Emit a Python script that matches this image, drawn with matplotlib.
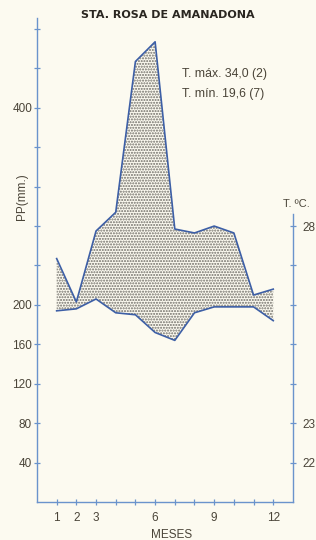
import numpy as np
import matplotlib
matplotlib.use("Agg")
from matplotlib import pyplot as plt

months = [1, 2, 3, 4, 5, 6, 7, 8, 9, 10, 11, 12]
pp = [247, 203, 275, 294, 447, 467, 277, 273, 280, 273, 210, 216]
temp = [25.85, 25.9, 26.15, 25.8, 25.75, 25.3, 25.1, 25.8, 25.95, 25.95, 25.95, 25.6]
month_labels = ['1', '2', '3', '', '', '6', '', '', '9', '', '', '12']
pp_ticks = [40, 80, 120, 160, 200, 240, 280, 320, 360, 400, 440, 480]
pp_labels = ['40', '80', '120', '160', '200', '', '', '', '', '400', '', '']
t_ticks = [22, 23, 24, 25, 26, 27, 28]
t_labels = ['22', '23', '', '', '', '', '28']

# T axis scaled so that 1 degree = 40 mm, 21 degrees at zero
t0 = 21
t_scale = 40

bg = '#fcfaf0'
axis_col = '#6a93cc'
line_col = '#3d5fa6'
text_col = '#4a4438'
dot_col = '#6e6c66'

plt.rcParams['font.family'] = ['Liberation Sans', 'DejaVu Sans']
plt.rcParams['hatch.linewidth'] = 1.0
plt.rcParams['hatch.color'] = dot_col

fig = plt.figure(figsize=(3.16, 5.4), dpi=100, facecolor=bg)
ax = fig.add_axes([0.117, 0.0704, 0.81, 0.896])
ax.set_facecolor(bg)
ymax = 491
ax.set_xlim(0, 13)
ax.set_ylim(0, ymax)

temp_pp = [(t - t0) * t_scale for t in temp]
ax.fill_between(months, pp, temp_pp, facecolor='none', edgecolor=dot_col,
                hatch='......', linewidth=0)
ax.plot(months, pp, color=line_col, lw=1.2)

ax2 = ax.twinx()
ax2.set_ylim(t0, t0 + ymax / t_scale)
ax2.plot(months, temp, color=line_col, lw=1.2)

for a in (ax, ax2):
    for s in a.spines.values():
        s.set_color(axis_col)
        s.set_linewidth(1.0)
    a.spines['top'].set_visible(False)
ax.spines['right'].set_visible(False)
ax2.spines['left'].set_visible(False)
ax2.spines['bottom'].set_visible(False)
ax2.spines['right'].set_bounds(t0, 28.3)

ax.set_xticks(months)
ax.set_xticklabels(month_labels)
ax.set_yticks(pp_ticks)
ax.set_yticklabels(pp_labels)
ax2.set_yticks(t_ticks)
ax2.set_yticklabels(t_labels)

ax.tick_params(axis='both', direction='inout', length=5, width=0.9, color=axis_col,
               labelsize=8.5, labelcolor=text_col, pad=1)
ax.tick_params(axis='x', pad=5)
ax2.tick_params(axis='y', direction='inout', length=5, width=0.9, color=axis_col,
                labelsize=8.5, labelcolor=text_col, pad=4)

ax.set_ylabel('PP(mm.)', color=text_col, fontsize=8.5)
ax.yaxis.set_label_coords(-0.035, 0.632)
ax.set_xlabel('MESES', color=text_col, fontsize=8.5)
ax.xaxis.set_label_coords(0.527, -0.055)

fig.text(0.53, 0.973, 'STA. ROSA DE AMANADONA', ha='center', va='center',
         fontsize=8, fontweight='bold', color='#2a2620', family='DejaVu Sans')
ax.text(0.565, 0.885, 'T. máx. 34,0 (2)', transform=ax.transAxes, fontsize=8.8,
        color=text_col, va='center')
ax.text(0.565, 0.843, 'T. mín. 19,6 (7)', transform=ax.transAxes, fontsize=8.8,
        color=text_col, va='center')
fig.text(0.895, 0.622, 'T. ºC.', fontsize=8, color=text_col, va='center')

fig.savefig('out.png', dpi=100, facecolor=bg)
